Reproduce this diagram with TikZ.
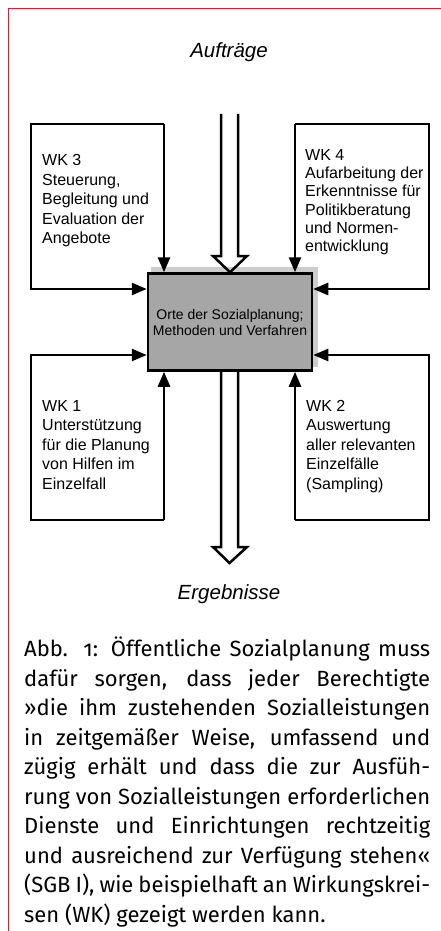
\documentclass[tikz,border=0pt]{standalone}
\usepackage{fontspec}
\setmainfont{Liberation Sans}
\newfontfamily\capfont[Numbers=OldStyle]{Fira Sans}
\usetikzlibrary{arrows.meta}
\definecolor{pagered}{RGB}{204,34,51}
\definecolor{boxgrey}{RGB}{166,166,166}
\definecolor{shadegrey}{RGB}{205,205,205}
\setlength{\parindent}{0pt}
\newcommand{\capline}[1]{\hbox to 406pt{#1}}
\tikzset{
  wire/.style={line width=2.5pt, -{Triangle[length=15pt,width=12pt]}},
  hollow/.style={line width=2.5pt, line join=miter},
  wktext/.style={anchor=north west, inner sep=0pt, align=left,
    font=\fontsize{16}{19.5}\selectfont},
  flowlabel/.style={anchor=base, inner sep=0pt, font=\itshape\fontsize{20.5}{24}\selectfont},
}
\begin{document}
\begin{tikzpicture}[x=1pt, y=-1pt]
  \useasboundingbox (0,0) rectangle (441,931);
  \draw[pagered, line width=1.2pt] (441,8.5) -- (8.5,8.5) -- (8.5,931);

  % centre box
  \fill[shadegrey] (151,267) rectangle (318,367);
  \node[draw, line width=2.5pt, fill=boxgrey, minimum width=164pt, minimum height=97pt,
    inner sep=0pt, align=center, font=\fontsize{14}{16}\selectfont] (orte) at (230,322)
    {Orte der Sozialplanung;\\Methoden und Verfahren};

  \node[flowlabel] (auf) at (229,58) {Aufträge};
  \node[flowlabel] (erg) at (229,599) {Ergebnisse};

  \node[wktext] (wk3) at (42,154.5) {WK 3\\Steuerung,\\Begleitung und\\Evaluation der\\Angebote};
  \node[wktext, font=\fontsize{16}{18.3}\selectfont] (wk4) at (305,149)
    {WK 4\\Aufarbeitung der\\Erkenntnisse für\\Politikberatung\\und Normen-\\entwicklung};
  \node[wktext] (wk1) at (42,400) {WK 1\\Unterstützung\\für die Planung\\von Hilfen im\\Einzelfall};
  \node[wktext] (wk2) at (306,400) {WK 2\\Auswertung\\aller relevanten\\Einzelfälle\\(Sampling)};

  % frames of the four WK
  \coordinate (c3l) at (31,124);  \coordinate (c3r) at (164,124);  \coordinate (k3) at (31,289);
  \coordinate (c4l) at (295,124); \coordinate (c4r) at (429,124); \coordinate (k4) at (429,289);
  \coordinate (c1l) at (31,520);  \coordinate (c1r) at (164,520);  \coordinate (k1) at (31,355);
  \coordinate (c2l) at (295,520); \coordinate (c2r) at (429,520); \coordinate (k2) at (429,355);

  \draw[wire] (c3r) -- (c3r |- orte.north);
  \draw[wire] (c3r) -- (c3l) -- (k3) -- (k3 -| orte.west);
  \draw[wire] (c4l) -- (c4l |- orte.north);
  \draw[wire] (c4l) -- (c4r) -- (k4) -- (k4 -| orte.east);
  \draw[wire] (c1r) -- (c1r |- orte.south);
  \draw[wire] (c1r) -- (c1l) -- (k1) -- (k1 -| orte.west);
  \draw[wire] (c2l) -- (c2l |- orte.south);
  \draw[wire] (c2l) -- (c2r) -- (k2) -- (k2 -| orte.east);

  % broad arrows in and out
  \coordinate (inl) at (221,114); \coordinate (inr) at (238,114);
  \coordinate (outtip) at (229.5,563);
  \draw[hollow] (inl) -- (221,256) -- (213,256) -- (orte.north) -- (247,256) -- (238,256) -- (inr);
  \draw[hollow] (221,371.5) -- (221,547) -- (213,547) -- (outtip) -- (247,547) -- (238,547) -- (238,371.5);

  % caption below the figure
  \node[anchor=north west, inner sep=0pt, font=\capfont\fontsize{22}{29.5}\selectfont] (cap) at (24,637)
    {\vbox{\hsize=406pt\baselineskip=29.5pt
     \capline{Abb. 1: Öffentliche Sozialplanung muss}
     \capline{dafür sorgen, dass jeder Berechtigte}
     \capline{»die ihm zustehenden Sozialleistungen}
     \capline{in zeitgemäßer Weise, umfassend und}
     \capline{zügig erhält und dass die zur Ausfüh-}
     \capline{rung von Sozialleistungen erforderlichen}
     \capline{Dienste und Einrichtungen rechtzeitig}
     \capline{und ausreichend zur Verfügung stehen«}
     \capline{(SGB I), wie beispielhaft an Wirkungskrei-}
     \hbox{sen (WK) gezeigt werden kann.}}};
\end{tikzpicture}
\end{document}
